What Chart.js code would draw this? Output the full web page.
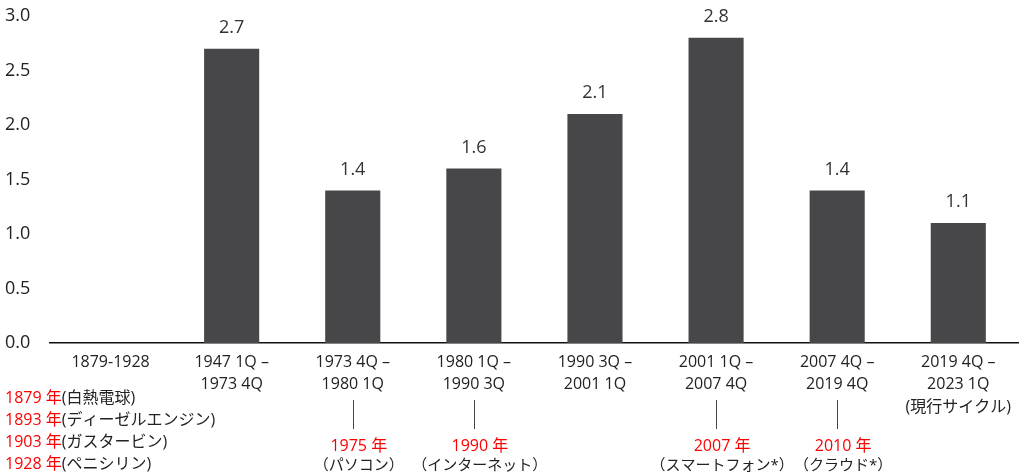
<!DOCTYPE html>
<html lang="ja">
<head>
<meta charset="utf-8">
<title>生産性上昇率の推移</title>
<script src="https://cdn.jsdelivr.net/npm/chart.js@4/dist/chart.umd.min.js"></script>
<style>
  html, body { margin: 0; padding: 0; background: #ffffff; }
  #wrap { position: relative; width: 1019px; height: 475px; }
</style>
</head>
<body>
<div id="wrap"><canvas id="chart"></canvas></div>
<script>
// Periods (multi-line category labels)
const periods = [
  ['1879-1928'],
  ['1947 1Q –', '1973 4Q'],
  ['1973 4Q –', '1980 1Q'],
  ['1980 1Q –', '1990 3Q'],
  ['1990 3Q –', '2001 1Q'],
  ['2001 1Q –', '2007 4Q'],
  ['2007 4Q –', '2019 4Q'],
  ['2019 4Q –', '2023 1Q', '(現行サイクル)']
];

// Average growth per period (no bar for the first period)
const growth = [null, 2.7, 1.4, 1.6, 2.1, 2.8, 1.4, 1.1];

// Y axis tick values
const yTicks = [0, 0.5, 1.0, 1.5, 2.0, 2.5, 3.0];

// Technology milestones placed under the periods
const milestoneYears = ['', '', '1975 年', '1990 年', '', '2007 年', '2010 年', ''];
const milestoneNames = ['', '', '（パソコン）', '（インターネット）', '', '（スマートフォン*）', '（クラウド*）', ''];

// Early inventions listed under the first period
const earlyYears = ['1879 年', '1893 年', '1903 年', '1928 年'];
const earlyNames = ['(白熱電球)', '(ディーゼルエンジン)', '(ガスタービン)', '(ペニシリン)'];

const FONT = '"Open Sans", "Noto Sans CJK JP", sans-serif';
const RED = '#ff0000';
const TEXT = '#222222';

// Value labels above each bar
const valueLabels = {
  id: 'valueLabels',
  afterDatasetsDraw(chart) {
    const ctx = chart.ctx;
    const meta = chart.getDatasetMeta(0);
    ctx.save();
    ctx.font = '18px ' + FONT;
    ctx.fillStyle = '#333333';
    ctx.textAlign = 'center';
    ctx.textBaseline = 'middle';
    meta.data.forEach((bar, i) => {
      const v = growth[i];
      if (v === null || v === undefined) return;
      ctx.fillText(v.toFixed(1), bar.x, bar.y - 21);
    });
    ctx.restore();
  }
};

// Milestone markers and the early-invention list beneath the axis
const milestones = {
  id: 'milestones',
  afterDraw(chart) {
    const ctx = chart.ctx;
    const xs = chart.scales.x;
    ctx.save();
    ctx.textBaseline = 'middle';

    milestoneYears.forEach((yr, i) => {
      if (!yr) return;
      const x = xs.getPixelForValue(i);
      ctx.strokeStyle = '#444444';
      ctx.lineWidth = 1;
      ctx.beginPath();
      ctx.moveTo(Math.round(x) + 0.5, 400);
      ctx.lineTo(Math.round(x) + 0.5, 429);
      ctx.stroke();
      // captions sit slightly right of the marker line
      const tx = x + 6;
      ctx.textAlign = 'center';
      ctx.font = '16px ' + FONT;
      ctx.fillStyle = RED;
      ctx.fillText(yr, tx, 446);
      ctx.font = '15px ' + FONT;
      ctx.fillStyle = TEXT;
      ctx.fillText(milestoneNames[i], tx, 466);
    });

    ctx.textAlign = 'left';
    ctx.font = '16px ' + FONT;
    earlyYears.forEach((yr, i) => {
      const y = 398 + i * 22;
      ctx.fillStyle = RED;
      ctx.fillText(yr, 5, y);
      const w = ctx.measureText(yr).width;
      ctx.fillStyle = TEXT;
      ctx.fillText(earlyNames[i], 5 + w, y);
    });
    ctx.restore();
  }
};

new Chart(document.getElementById('chart'), {
  type: 'bar',
  data: {
    labels: periods,
    datasets: [{
      data: growth,
      backgroundColor: '#47474a',
      borderWidth: 0,
      barPercentage: 0.455,
      categoryPercentage: 1
    }]
  },
  options: {
    responsive: true,
    maintainAspectRatio: false,
    animation: false,
    layout: { padding: { left: 5, right: 0, top: 16, bottom: 0 } },
    plugins: {
      legend: { display: false },
      tooltip: { enabled: false }
    },
    scales: {
      x: {
        grid: { display: false, drawTicks: false },
        border: { display: true, color: '#111111', width: 1.5 },
        ticks: {
          color: TEXT,
          padding: 8,
          maxRotation: 0,
          autoSkip: false,
          font: { family: FONT, size: 16, lineHeight: 1.4 }
        },
        afterFit(scale) { scale.height = 132; }
      },
      y: {
        min: 0,
        max: 3,
        grid: { display: false, drawTicks: false },
        border: { display: false },
        afterBuildTicks(scale) { scale.ticks = yTicks.map(v => ({ value: v })); },
        ticks: {
          color: TEXT,
          crossAlign: 'far',
          padding: 0,
          font: { family: FONT, size: 18 },
          callback: v => Number(v).toFixed(1)
        },
        afterFit(scale) { scale.width = 45; }
      }
    }
  },
  plugins: [valueLabels, milestones]
});
</script>
</body>
</html>
